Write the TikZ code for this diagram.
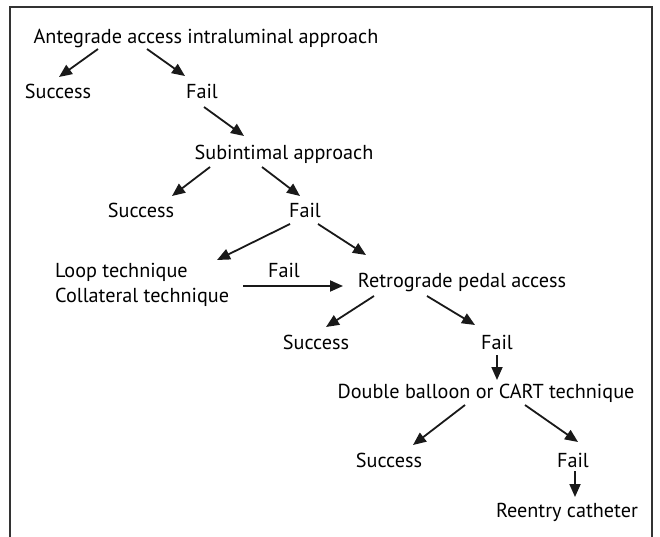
\documentclass[tikz,border=0pt]{standalone}
\usepackage{fontspec}
\setmainfont{PT Sans}
\usepackage{tikz}
\usetikzlibrary{positioning,arrows.meta,calc}
\tikzset{
  step txt/.style={font=\fontsize{20.2}{23}\selectfont, inner sep=0pt, anchor=base},
  left txt/.style={step txt, anchor=base west},
  flow/.style={-{Triangle[length=13pt,width=11pt]}, line width=1.8pt, black!90},
  frame/.style={line width=1.2pt, black!80}
}

\begin{document}
\begin{tikzpicture}[x=1pt, y=-1pt]
\useasboundingbox (0,0) rectangle (660,537);
\draw[frame] (10,537) -- (10,7) -- (652,7) -- (652,537);

% steps
\node (ante)  [step txt] at (206,44)  {Antegrade access intraluminal approach};
\node (succ1) [step txt] at (58,99)   {Success};
\node (fail1) [step txt] at (202,99)  {Fail};
\node (sub)   [step txt] at (284,160) {Subintimal approach};
\node (succ2) [step txt] at (141,218) {Success};
\node (fail2) [step txt] at (305,218) {Fail};
\node (loop)  [left txt] at (55,277)  {Loop technique};
\node (coll)  [left txt] at (55,302)  {Collateral technique};
\node (fail3) [step txt] at (284,277) {Fail};
\node (retro) [step txt] at (462,287) {Retrograde pedal access};
\node (succ3) [step txt] at (316,349) {Success};
\node (fail4) [step txt] at (497,349) {Fail};
\node (dbl)   [step txt] at (486,398) {Double balloon or CART technique};
\node (succ4) [step txt] at (389,467) {Success};
\node (fail5) [step txt] at (573,467) {Fail};
\node (reent) [step txt] at (567,517) {Reentry catheter};

% arrows
\draw[flow] ($(ante.base)+(-108,5)$) -- ($(succ1.base)+(1,-22)$);
\draw[flow] ($(ante.base)+(-59,5)$)  -- ($(fail1.base)+(-17,-23)$);
\draw[flow] ($(fail1.base)+(2,8)$)   -- ($(sub.base)+(-40,-24)$);
\draw[flow] ($(sub.base)+(-74,7)$)   -- ($(succ2.base)+(31,-22)$);
\draw[flow] ($(sub.base)+(-22,7)$)   -- ($(fail2.base)+(-5,-22)$);
\draw[flow] ($(fail2.base)+(-15,6)$) -- ($(loop.base west)+(162,-17)$);
\draw[flow] ($(fail2.base)+(13,6)$)  -- ($(retro.base)+(-96,-32)$);
\draw[flow] ($(coll.base west)+(188,-16)$) -- ($(retro.base)+(-119,-1)$);
\draw[flow] ($(retro.base)+(-88,9)$) -- ($(succ3.base)+(10,-22)$);
\draw[flow] ($(retro.base)+(-35,9)$) -- ($(fail4.base)+(-22,-24)$);
\draw[flow] ($(fail4.base)+(0,6)$)   -- ($(dbl.base)+(11,-18)$);
\draw[flow] ($(dbl.base)+(-21,7)$)   -- ($(succ4.base)+(24,-22)$);
\draw[flow] ($(dbl.base)+(39,7)$)    -- ($(fail5.base)+(5,-25)$);
\draw[flow] ($(fail5.base)+(2,4)$)   -- ($(reent.base)+(8,-20)$);
\end{tikzpicture}
\end{document}
